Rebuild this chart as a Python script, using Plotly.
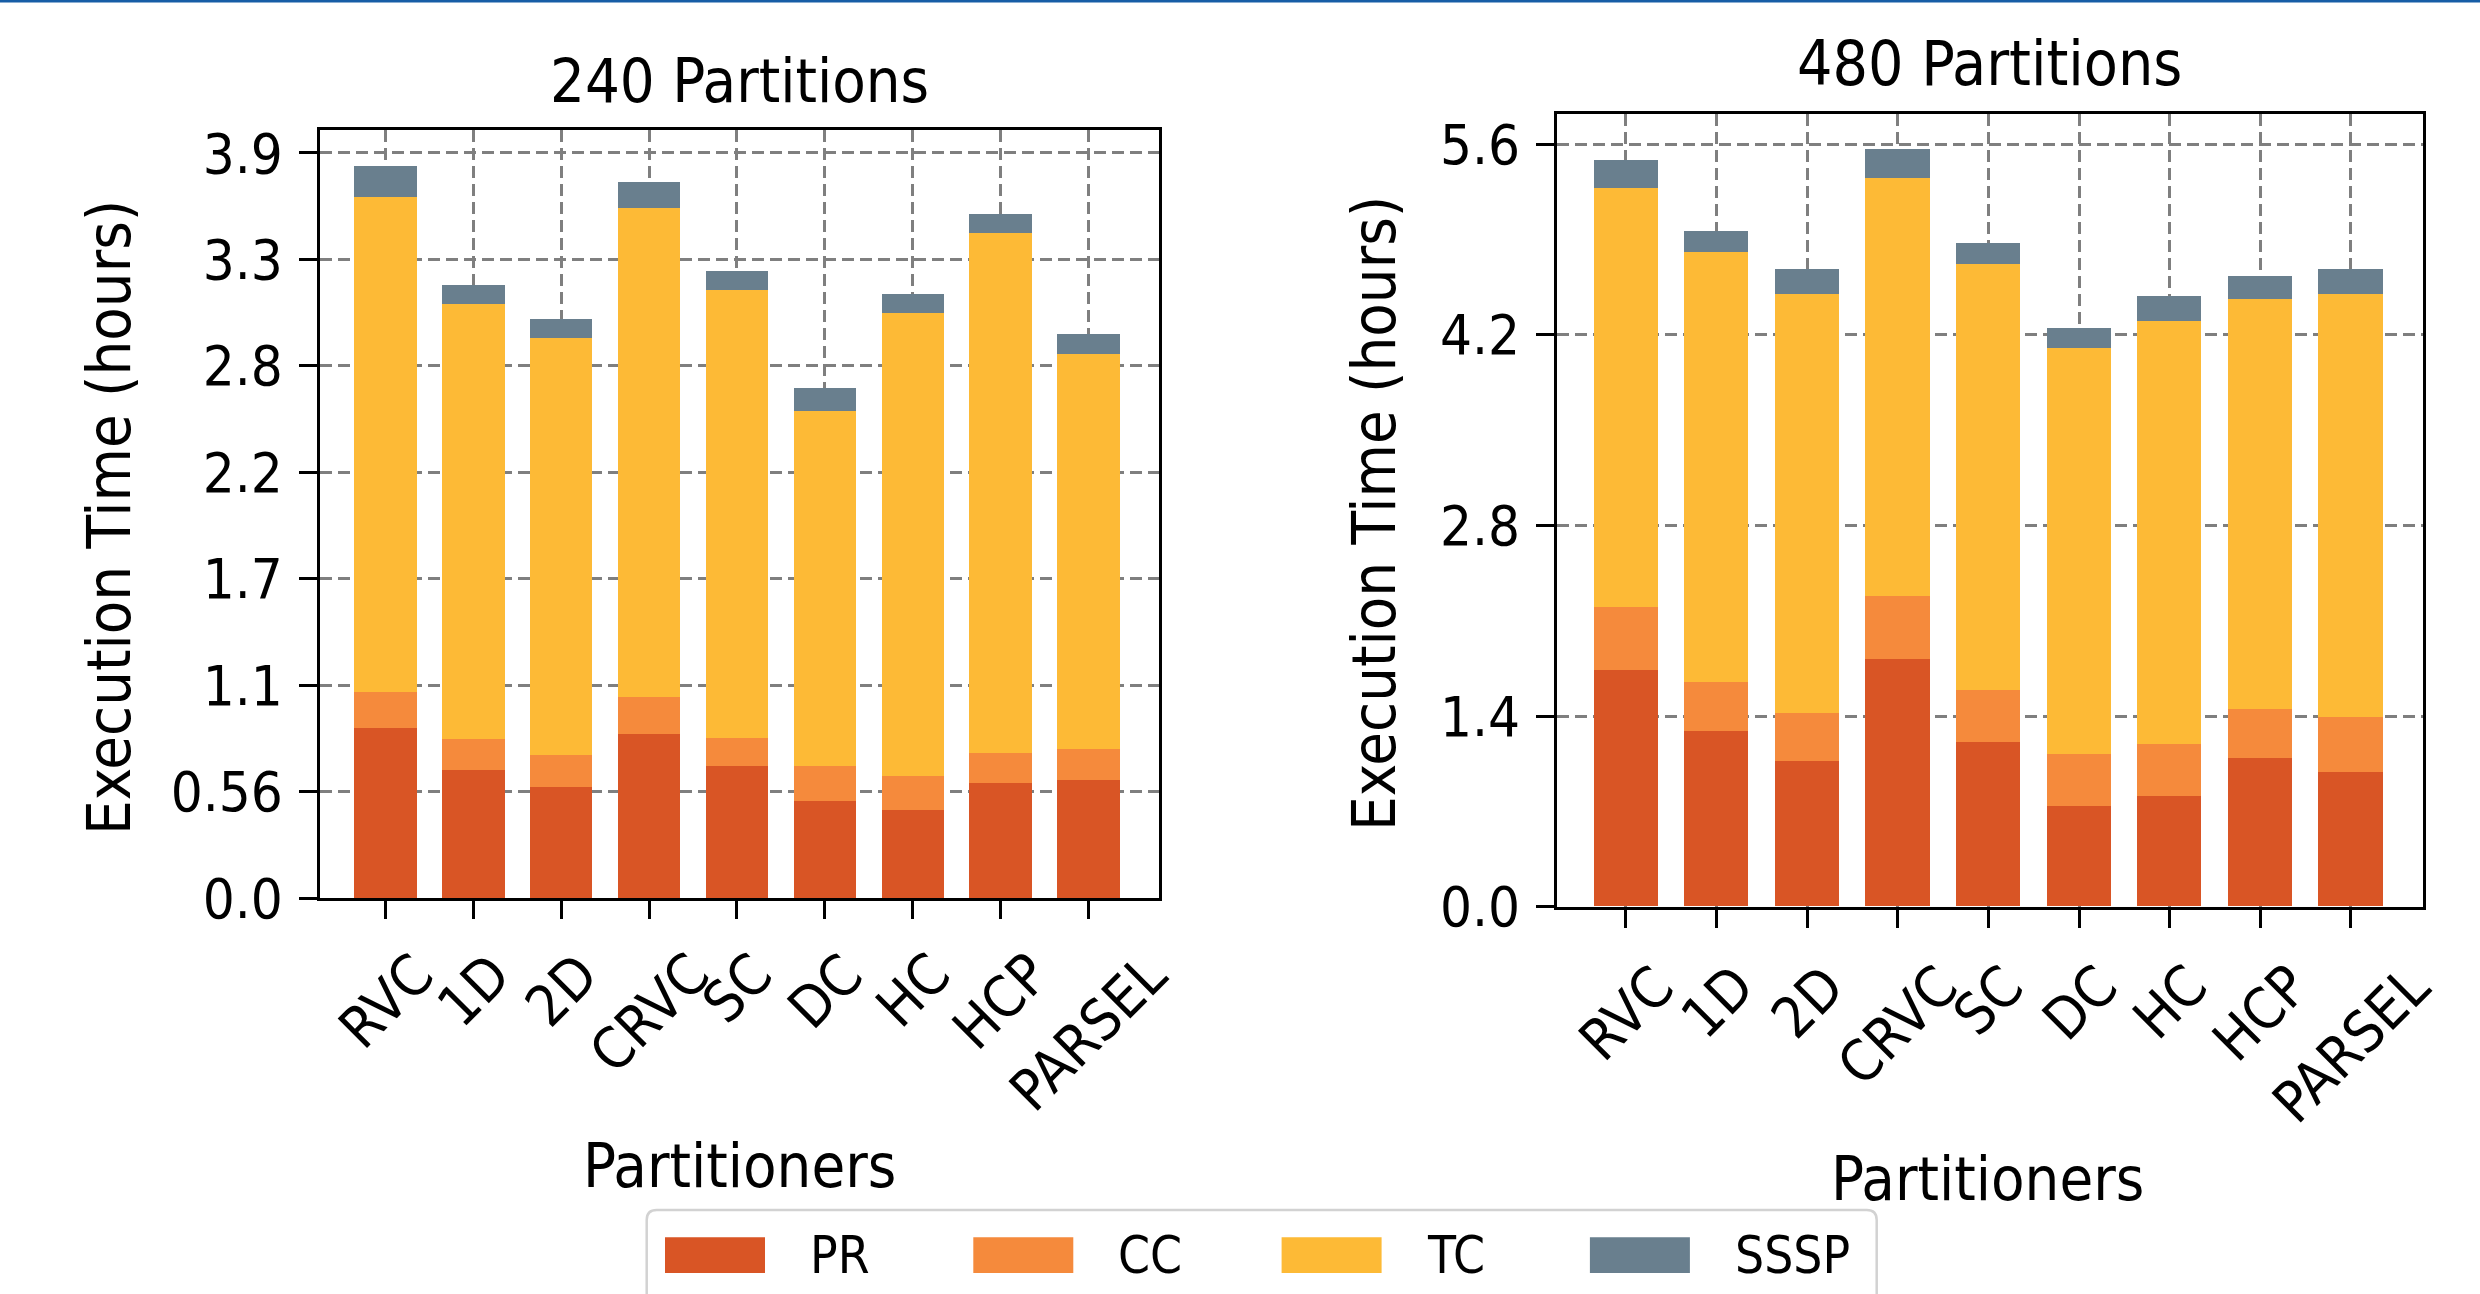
import numpy as np
import plotly.graph_objects as go

# ---------------- data ----------------
categories = ["RVC", "1D", "2D", "CRVC", "SC", "DC", "HC", "HCP", "PARSEL"]
series_names = ["PR", "CC", "TC", "SSSP"]
series_colors = ["#d95525", "#f58a3c", "#fdba36", "#697f8e"]

pr_240 = [0.89, 0.67, 0.58, 0.86, 0.69, 0.51, 0.46, 0.60, 0.62]
cc_240 = [0.19, 0.16, 0.17, 0.19, 0.15, 0.18, 0.18, 0.16, 0.16]
tc_240 = [2.59, 2.28, 2.18, 2.56, 2.34, 1.86, 2.42, 2.72, 2.07]
sssp_240 = [0.16, 0.10, 0.10, 0.14, 0.10, 0.12, 0.10, 0.10, 0.10]

pr_480 = [1.74, 1.29, 1.07, 1.82, 1.21, 0.74, 0.81, 1.09, 0.99]
cc_480 = [0.46, 0.36, 0.35, 0.46, 0.38, 0.38, 0.38, 0.36, 0.40]
tc_480 = [3.08, 3.16, 3.08, 3.07, 3.13, 2.98, 3.11, 3.01, 3.11]
sssp_480 = [0.20, 0.15, 0.18, 0.21, 0.15, 0.15, 0.18, 0.17, 0.18]

ytick_vals_240 = [0.0, 0.557, 1.114, 1.671, 2.229, 2.786, 3.343, 3.9]
ytick_text_240 = ["0.0", "0.56", "1.1", "1.7", "2.2", "2.8", "3.3", "3.9"]
ytick_vals_480 = [0.0, 1.4, 2.8, 4.2, 5.6]
ytick_text_480 = ["0.0", "1.4", "2.8", "4.2", "5.6"]

titles = ["240 Partitions", "480 Partitions"]
y_title = "Execution Time (hours)"
x_title = "Partitioners"

# ---------------- layout helpers ----------------
W, H = 2480, 1294
FONT = "DejaVu Sans Condensed, DejaVu Sans, sans-serif"


def px(x):
    return x / W


def py(y):
    return 1 - y / H


fig = go.Figure()

data_240 = [pr_240, cc_240, tc_240, sssp_240]
data_480 = [pr_480, cc_480, tc_480, sssp_480]

for name, color, vals in zip(series_names, series_colors, data_240):
    fig.add_trace(go.Bar(x=categories, y=vals, name=name, marker_color=color,
                         marker_line_width=0, width=0.71, xaxis="x", yaxis="y",
                         showlegend=False))
for name, color, vals in zip(series_names, series_colors, data_480):
    fig.add_trace(go.Bar(x=categories, y=vals, name=name, marker_color=color,
                         marker_line_width=0, width=0.71, xaxis="x2", yaxis="y2",
                         showlegend=False))

grid = dict(showgrid=True, gridcolor="#7f7f7f", gridwidth=2.5, griddash="12px,6px")
axis_common = dict(showline=True, linecolor="black", linewidth=3, mirror=True,
                   ticks="outside", ticklen=18, tickwidth=3, tickcolor="black",
                   zeroline=False, automargin=False, **grid)

fig.update_layout(
    width=W, height=H, autosize=False,
    margin=dict(l=0, r=0, t=0, b=0, pad=0, autoexpand=False),
    paper_bgcolor="white", plot_bgcolor="white",
    barmode="stack", bargap=0, showlegend=False,
    font=dict(family=FONT, color="black"),
    xaxis=dict(domain=[px(320), px(1158.7)], anchor="y", type="category",
               range=[-0.746, 8.80], showticklabels=False, **axis_common),
    yaxis=dict(domain=[py(898), py(130)], anchor="x", range=[0, 4.02],
               tickvals=ytick_vals_240, ticktext=ytick_text_240,
               ticklabelstandoff=5,
               tickfont=dict(size=56, family=FONT), **axis_common),
    xaxis2=dict(domain=[px(1557.3), px(2423.3)], anchor="y2", type="category",
                range=[-0.758, 8.80], showticklabels=False, **axis_common),
    yaxis2=dict(domain=[py(906.7), py(114.3)], anchor="x2", range=[0, 5.82],
                tickvals=ytick_vals_480, ticktext=ytick_text_480,
                ticklabelstandoff=5,
                tickfont=dict(size=56, family=FONT), **axis_common),
)

annotations = []
# rotated category labels
for xr, ytop in (("x", 938), ("x2", 950)):
    for c in categories:
        annotations.append(dict(x=c, xref=xr, y=py(ytop), yref="paper",
                                text=c, showarrow=False, textangle=-45,
                                xanchor="center", yanchor="top",
                                font=dict(size=57, family=FONT)))
# titles
annotations.append(dict(x=px(739), y=py(80), xref="paper", yref="paper", text=titles[0],
                        showarrow=False, xanchor="center", yanchor="middle",
                        font=dict(size=61, family=FONT)))
annotations.append(dict(x=px(1990), y=py(63), xref="paper", yref="paper", text=titles[1],
                        showarrow=False, xanchor="center", yanchor="middle",
                        font=dict(size=62, family=FONT)))
# y titles
annotations.append(dict(x=px(108), y=py(518), xref="paper", yref="paper", text=y_title,
                        showarrow=False, textangle=-90, xanchor="center", yanchor="middle",
                        font=dict(size=61, family=FONT)))
annotations.append(dict(x=px(1373), y=py(514), xref="paper", yref="paper", text=y_title,
                        showarrow=False, textangle=-90, xanchor="center", yanchor="middle",
                        font=dict(size=61, family=FONT)))
# x titles
annotations.append(dict(x=px(739), y=py(1165), xref="paper", yref="paper", text=x_title,
                        showarrow=False, xanchor="center", yanchor="middle",
                        font=dict(size=61, family=FONT)))
annotations.append(dict(x=px(1987), y=py(1178), xref="paper", yref="paper", text=x_title,
                        showarrow=False, xanchor="center", yanchor="middle",
                        font=dict(size=61, family=FONT)))

shapes = []
# legend box (rounded, cut off by the bottom of the image)
x0, x1, y0, y1, r = 646.7, 1876.7, 1210, 1330, 10
path = (f"M {px(x0)},{py(y1)} L {px(x0)},{py(y0 + r)} "
        f"Q {px(x0)},{py(y0)} {px(x0 + r)},{py(y0)} "
        f"L {px(x1 - r)},{py(y0)} Q {px(x1)},{py(y0)} {px(x1)},{py(y0 + r)} "
        f"L {px(x1)},{py(y1)}")
shapes.append(dict(type="path", xref="paper", yref="paper", path=path,
                   line=dict(color="#d2d2d2", width=2.5), fillcolor="rgba(0,0,0,0)"))
for i, (name, color) in enumerate(zip(series_names, series_colors)):
    sx = 665 + i * 308.3
    shapes.append(dict(type="rect", xref="paper", yref="paper",
                       x0=px(sx), x1=px(sx + 100), y0=py(1273), y1=py(1237.3),
                       fillcolor=color, line=dict(width=0)))
    annotations.append(dict(x=px(sx + 143), y=py(1255), xref="paper", yref="paper",
                            text=name, showarrow=False, xanchor="left", yanchor="middle",
                            font=dict(size=51, family=FONT)))
# thin blue line at the very top
shapes.append(dict(type="rect", xref="paper", yref="paper", x0=0, x1=1,
                   y0=py(2.5), y1=1, fillcolor="#175da6", line=dict(width=0)))

fig.update_layout(annotations=annotations, shapes=shapes)
fig.write_html("out.html")
